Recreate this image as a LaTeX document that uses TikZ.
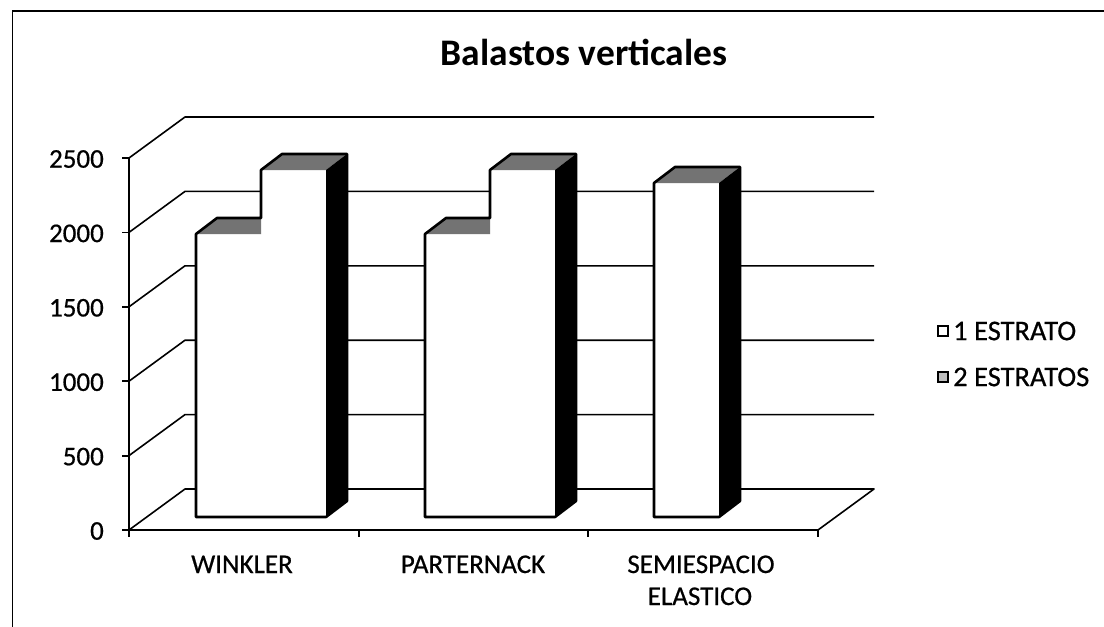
\documentclass[tikz,border=0pt]{standalone}
\usepackage{fontspec}
\setmainfont{Carlito}
\newfontfamily\scanfont{Carlito}[FakeBold=0.6]
\newcommand\barpair[3]{% x0, top of bar1, top of bar2
  \fill[white] (#1,#2) rectangle (#1+130,517);
  \fill[white] (#1+65,#3) rectangle (#1+130,517);
  \fill[topface] (#1,#2) -- (#1+65,#2) -- (#1+65,#2-16) -- (#1+21,#2-16) -- cycle;
  \fill[topface] (#1+65,#3) -- (#1+130,#3) -- (#1+151,#3-16) -- (#1+86,#3-16) -- cycle;
  \fill[sideface] (#1+130,#3) -- (#1+151,#3-16) -- (#1+151,501) -- (#1+130,517) -- cycle;
  \draw[barline] (#1,517) -- (#1,#2) -- (#1+21,#2-16) -- (#1+65,#2-16) -- (#1+65,#3)
     -- (#1+86,#3-16) -- (#1+151,#3-16) -- (#1+151,501) -- (#1+130,517) -- cycle;
}
\newcommand\onebar[2]{% x0, top
  \fill[white] (#1,#2) rectangle (#1+65,517);
  \fill[topface] (#1,#2) -- (#1+65,#2) -- (#1+86,#2-16) -- (#1+21,#2-16) -- cycle;
  \fill[sideface] (#1+65,#2) -- (#1+86,#2-16) -- (#1+86,501) -- (#1+65,517) -- cycle;
  \draw[barline] (#1,517) -- (#1,#2) -- (#1+21,#2-16) -- (#1+86,#2-16) -- (#1+86,501)
     -- (#1+65,517) -- cycle;
}
\begin{document}
\begin{tikzpicture}[x=1pt,y=-1pt,
  gridline/.style={line width=1.6pt,line join=round},
  frameline/.style={line width=1.4pt},
  axisline/.style={line width=1.8pt},
  barline/.style={line width=2.6pt,line join=round},
  topface/.style={fill=black!55},
  sideface/.style={fill=black},
  lbl/.style={inner sep=0pt,font=\scanfont\fontsize{27}{32}\selectfont},
  leglbl/.style={inner sep=0pt,font=\scanfont\fontsize{28.5}{32}\selectfont},
  legbox/.style={draw,line width=2pt,minimum size=10pt,inner sep=0pt}]
\useasboundingbox (0,0) rectangle (1104,627);
\fill[white] (0,0) rectangle (1104,627);
\draw[frameline] (12.5,627) -- (12.5,11) -- (1104,11);
% back wall and side wall grid
\foreach \k in {1,...,5}{
  \draw[gridline] (129,530-74.4*\k) -- (185,489-74.4*\k) -- (874,489-74.4*\k);
}
% floor
\draw[gridline] (129,530) -- (185,489) -- (874,489) -- (818,530);
% bars
\barpair{196}{234}{170}
\barpair{425}{234}{170}
\onebar{654}{183}
% axes
\draw[axisline] (129,158) -- (129,530) -- (818,530);
\foreach \k in {0,...,5}{
  \draw[axisline] (122,530-74.4*\k) -- (129,530-74.4*\k);
}
\foreach \x in {129,359,588,818}{
  \draw[axisline] (\x,530) -- (\x,537);
}
% axis labels
\node[lbl,anchor=east] (y0) at (104,531) {0};
\node[lbl,anchor=east] (y1) at (104,456.6) {500};
\node[lbl,anchor=east] (y2) at (104,382.2) {1000};
\node[lbl,anchor=east] (y3) at (104,307.8) {1500};
\node[lbl,anchor=east] (y4) at (104,233.4) {2000};
\node[lbl,anchor=east] (y5) at (104,159) {2500};
\node[lbl,anchor=base] (c1) at (242,573) {WINKLER};
\node[lbl,anchor=base] (c2) at (473,573) {PARTERNACK};
\node[lbl,anchor=base] (c3a) at (701,573) {SEMIESPACIO};
\node[lbl,anchor=base] (c3b) at (700,605) {ELASTICO};
% title
\node[inner sep=0pt,anchor=base,font=\fontsize{37.5}{42}\selectfont\bfseries] (title) at (584,65) {Balastos verticales};
% legend
\node[legbox,fill=white] (k1) at (943,331) {};
\node[legbox,fill=black!25] (k2) at (943,377) {};
\node[leglbl,anchor=west] (l1) at (953,331) {1 ESTRATO};
\node[leglbl,anchor=west] (l2) at (953,377) {2 ESTRATOS};
\end{tikzpicture}
\end{document}
